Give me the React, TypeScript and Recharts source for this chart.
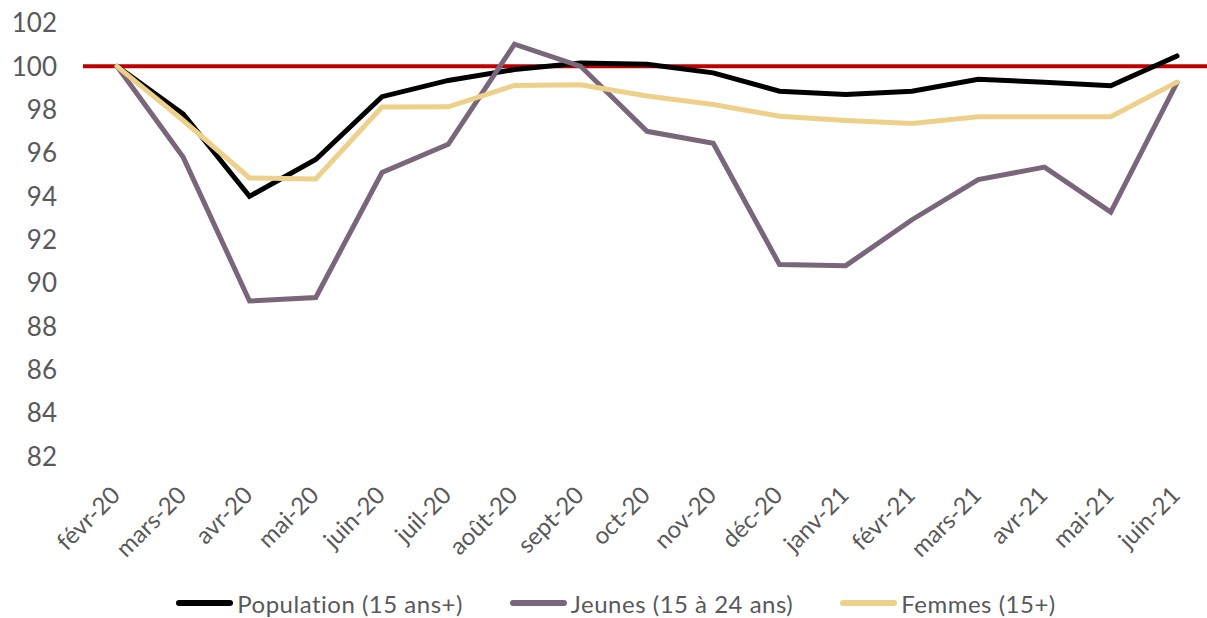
import { LineChart, Line, XAxis, YAxis, ReferenceLine, Legend } from "recharts";

const months = [
  "févr-20", "mars-20", "avr-20", "mai-20", "juin-20", "juil-20", "août-20", "sept-20",
  "oct-20", "nov-20", "déc-20", "janv-21", "févr-21", "mars-21", "avr-21", "mai-21", "juin-21",
];

const population = [100, 97.8, 94.0, 95.7, 98.6, 99.35, 99.85, 100.15, 100.1, 99.7, 98.85, 98.7, 98.85, 99.4, 99.27, 99.1, 100.48];
const jeunes = [100, 95.8, 89.17, 89.33, 95.1, 96.4, 101.02, 100.0, 97.0, 96.45, 90.85, 90.8, 92.92, 94.77, 95.35, 93.27, 99.25];
const femmes = [100, 97.5, 94.85, 94.8, 98.12, 98.13, 99.12, 99.15, 98.63, 98.24, 97.7, 97.5, 97.36, 97.67, 97.67, 97.67, 99.27];

const yTicks = [82, 84, 86, 88, 90, 92, 94, 96, 98, 100, 102];

const series = [
  { key: "population", label: "Population (15 ans+)", color: "#000000" },
  { key: "jeunes", label: "Jeunes (15 à 24 ans)", color: "#7a667a" },
  { key: "femmes", label: "Femmes (15+)", color: "#edd18a" },
];

const data = months.map((m, i) => ({
  month: m,
  population: population[i],
  jeunes: jeunes[i],
  femmes: femmes[i],
}));

const FONT = "Lato, 'Open Sans', sans-serif";
const GREY = "#595959";

const MonthTick = ({ x, y, payload }: any) => (
  <text
    x={0}
    y={0}
    transform={`translate(${x - 2},${y}) rotate(-45)`}
    textAnchor="end"
    dominantBaseline="central"
    fill={GREY}
    fontSize={24}
    fontFamily={FONT}
  >
    {payload.value}
  </text>
);

const renderLegend = () => (
  <div
    style={{
      display: "flex",
      justifyContent: "center",
      alignItems: "center",
      gap: 47,
      paddingLeft: 25,
      height: 30,
      fontFamily: FONT,
      fontSize: 24,
      letterSpacing: 0.5,
      color: GREY,
    }}
  >
    {series.map((s) => (
      <div key={s.key} style={{ display: "flex", alignItems: "center" }}>
        <span
          style={{
            display: "inline-block",
            width: 57,
            height: 6,
            borderRadius: 3,
            background: s.color,
            marginRight: 4,
          }}
        />
        <span>{s.label}</span>
      </div>
    ))}
  </div>
);

export default function App() {
  return (
    <div style={{ position: "absolute", left: 0, top: 0, background: "#fff" }}>
      <LineChart width={1207} height={618} data={data} margin={{ top: 23, right: 0, bottom: 0, left: 0 }}>
        <XAxis
          dataKey="month"
          axisLine={false}
          tickLine={false}
          tickSize={0}
          tickMargin={12}
          height={110}
          interval={0}
          padding={{ left: 34, right: 30 }}
          tick={<MonthTick />}
        />
        <YAxis
          domain={[81, 102]}
          ticks={yTicks}
          allowDataOverflow
          axisLine={false}
          tickLine={false}
          tickSize={0}
          tickMargin={26}
          width={83}
          tick={{ fill: GREY, fontSize: 26, fontFamily: FONT }}
        />
        <ReferenceLine y={100} stroke="#c00000" strokeWidth={4} />
        {series.map((s) => (
          <Line
            key={s.key}
            dataKey={s.key}
            name={s.label}
            stroke={s.color}
            strokeWidth={5}
            strokeLinecap="round"
            dot={false}
            activeDot={false}
            isAnimationActive={false}
          />
        ))}
        <Legend verticalAlign="bottom" height={30} content={renderLegend} />
      </LineChart>
    </div>
  );
}
